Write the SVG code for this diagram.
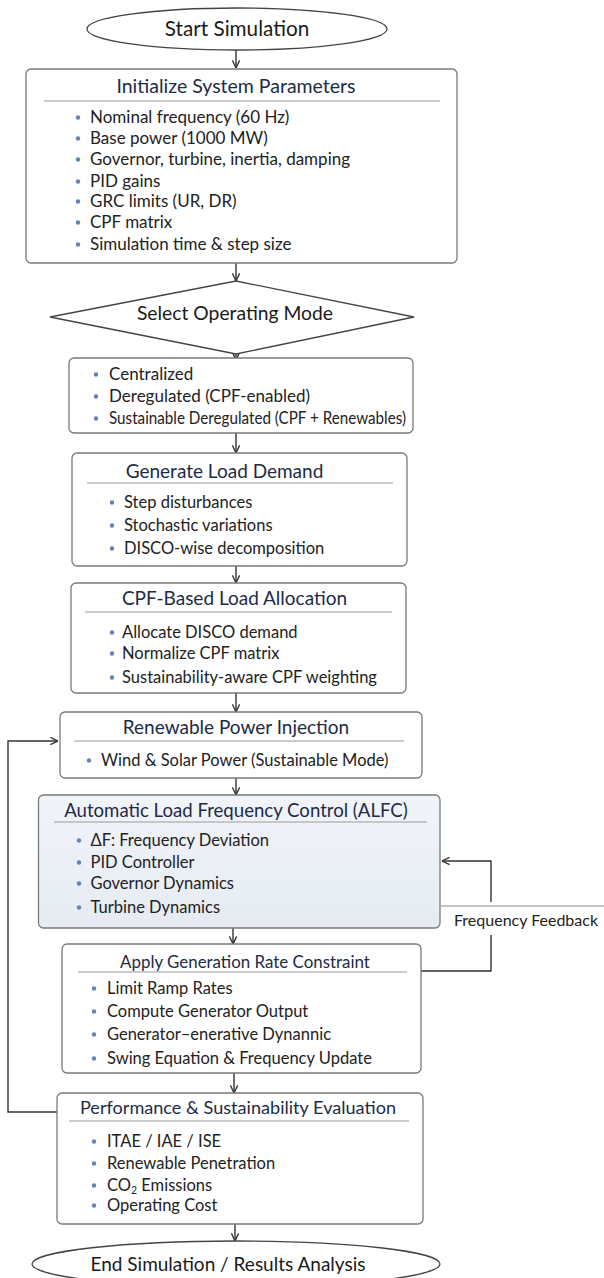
<svg xmlns="http://www.w3.org/2000/svg" width="604" height="1278" viewBox="0 0 604 1278">
<style>
text{font-family:Lato,'Open Sans','Liberation Sans',sans-serif}
.box{fill:#fff;stroke:#7a7a7a;stroke-width:1.3}
.term{fill:#fff;stroke:#444;stroke-width:1.3}
.title{font-size:19px;fill:#1d2b45;text-anchor:middle}
.big{font-size:20px;fill:#1a1a1a;text-anchor:middle}
.txt{font-size:16.5px;fill:#222}
.t17{font-size:17px}
.sep{stroke:#9a9a9a;stroke-width:1.2}
.dot{fill:#6482b8}
.conn{stroke:#333;stroke-width:1.4;fill:none}
.ah{marker-end:url(#arr)}
</style>
<defs>
<marker id="arr" viewBox="0 0 10 10" refX="9.5" refY="5" markerWidth="9" markerHeight="9" markerUnits="userSpaceOnUse" orient="auto">
<path d="M1,1 L9.5,5 L1,9" fill="none" stroke="#333" stroke-width="1.5"/>
</marker>
<linearGradient id="alfc" x1="0" y1="0" x2="0" y2="1">
<stop offset="0" stop-color="#f1f4f9"/>
<stop offset="1" stop-color="#e6ebf3"/>
</linearGradient>
</defs>

<g id="connectors">
<path class="conn ah" d="M236,50 V68"/>
<path class="conn ah" d="M236,263 V281"/>
<path class="conn ah" d="M236,354 V360"/>
<path class="conn ah" d="M236,433 V453"/>
<path class="conn ah" d="M236,566 V583"/>
<path class="conn ah" d="M236,693 V712"/>
<path class="conn ah" d="M236,778 V795"/>
<path class="conn ah" d="M233,928 V944"/>
<path class="conn ah" d="M234,1073 V1093"/>
<path class="conn ah" d="M235,1224 V1241"/>
<path class="conn ah" d="M57,1112 H8 V741 H58"/>
<path class="conn" d="M421,971 H491 V935"/>
<path class="conn ah" d="M491,902 V861 H442"/>
<path d="M441,906 H604" stroke="#8a8a8a" stroke-width="1" fill="none"/>
<text class="txt" x="454" y="926" style="font-size:16px">Frequency Feedback</text>
</g>

<g id="start">
<ellipse class="term" cx="237" cy="29" rx="150" ry="21"/>
<text class="big" x="237" y="36" style="font-size:20.7px">Start Simulation</text>
</g>

<g id="init">
<rect class="box" x="26" y="69" width="431" height="194" rx="5"/>
<text class="title" x="236" y="93" style="font-size:19.5px">Initialize System Parameters</text>
<line class="sep" x1="44" y1="101" x2="440" y2="101"/>
<circle class="dot" cx="78" cy="117.5" r="2.2"/><text class="txt t17" x="90" y="123">Nominal frequency (60 Hz)</text>
<circle class="dot" cx="78" cy="138.5" r="2.2"/><text class="txt t17" x="90" y="144">Base power (1000 MW)</text>
<circle class="dot" cx="78" cy="159.5" r="2.2"/><text class="txt t17" x="90" y="165">Governor, turbine, inertia, damping</text>
<circle class="dot" cx="78" cy="181.5" r="2.2"/><text class="txt t17" x="90" y="187">PID gains</text>
<circle class="dot" cx="78" cy="201.5" r="2.2"/><text class="txt t17" x="90" y="207">GRC limits (UR, DR)</text>
<circle class="dot" cx="78" cy="222.5" r="2.2"/><text class="txt t17" x="90" y="228">CPF matrix</text>
<circle class="dot" cx="78" cy="244.5" r="2.2"/><text class="txt t17" x="90" y="250">Simulation time &amp; step size</text>
</g>

<g id="select-mode">
<polygon class="term" points="236,281 414,317 236,354 50,317"/>
<text class="title" x="235" y="320" style="fill:#1a1a1a;font-size:19.3px">Select Operating Mode</text>
</g>

<g id="modes">
<rect class="box" x="69" y="358" width="344" height="75" rx="5"/>
<circle class="dot" cx="96" cy="374.5" r="2.2"/><text class="txt t17" x="109" y="380">Centralized</text>
<circle class="dot" cx="96" cy="396.5" r="2.2"/><text class="txt t17" x="109" y="402">Deregulated (CPF-enabled)</text>
<circle class="dot" cx="96" cy="418.5" r="2.2"/><text class="txt t17" x="109" y="424" textLength="297" lengthAdjust="spacingAndGlyphs">Sustainable Deregulated (CPF + Renewables)</text>
</g>

<g id="load-demand">
<rect class="box" x="72" y="453" width="335" height="113" rx="5"/>
<text class="title" x="224.5" y="478">Generate Load Demand</text>
<line class="sep" x1="87" y1="483" x2="393" y2="483"/>
<circle class="dot" cx="112" cy="502.5" r="2.2"/><text class="txt" x="124" y="508">Step disturbances</text>
<circle class="dot" cx="112" cy="525.5" r="2.2"/><text class="txt" x="124" y="531">Stochastic variations</text>
<circle class="dot" cx="112" cy="548.5" r="2.2"/><text class="txt" x="124" y="554">DISCO-wise decomposition</text>
</g>

<g id="cpf-allocation">
<rect class="box" x="71" y="583" width="335" height="110" rx="5"/>
<text class="title" x="234.5" y="605">CPF-Based Load Allocation</text>
<line class="sep" x1="85" y1="612" x2="392" y2="612"/>
<circle class="dot" cx="112" cy="632.5" r="2.2"/><text class="txt" x="122" y="638">Allocate DISCO demand</text>
<circle class="dot" cx="112" cy="653.5" r="2.2"/><text class="txt" x="122" y="659">Normalize CPF matrix</text>
<circle class="dot" cx="112" cy="677.5" r="2.2"/><text class="txt" x="122" y="683">Sustainability-aware CPF weighting</text>
</g>

<g id="renewable">
<rect class="box" x="60" y="712" width="362" height="66" rx="5"/>
<text class="title" x="236" y="734">Renewable Power Injection</text>
<line class="sep" x1="74" y1="741" x2="404" y2="741"/>
<circle class="dot" cx="89" cy="760.5" r="2.2"/><text class="txt" x="101" y="766">Wind &amp; Solar Power (Sustainable Mode)</text>
</g>

<g id="alfc-node">
<rect x="38.5" y="795" width="401.5" height="133" rx="5" fill="url(#alfc)" stroke="#7a7a7a" stroke-width="1.3"/>
<text class="title" x="236" y="817" style="font-size:18.6px">Automatic Load Frequency Control (ALFC)</text>
<line class="sep" x1="54" y1="822" x2="427" y2="822"/>
<circle class="dot" cx="79" cy="840.5" r="2.2"/><text class="txt" x="90.5" y="846">ΔF: Frequency Deviation</text>
<circle class="dot" cx="79" cy="862.5" r="2.2"/><text class="txt" x="90.5" y="868">PID Controller</text>
<circle class="dot" cx="79" cy="883.5" r="2.2"/><text class="txt" x="90.5" y="889">Governor Dynamics</text>
<circle class="dot" cx="79" cy="907.5" r="2.2"/><text class="txt" x="90.5" y="913">Turbine Dynamics</text>
</g>

<g id="grc">
<rect class="box" x="62" y="944" width="359" height="129" rx="5"/>
<text class="title" x="245" y="968" style="font-size:16.9px">Apply Generation Rate Constraint</text>
<line class="sep" x1="78" y1="972" x2="407" y2="972"/>
<circle class="dot" cx="94" cy="988.5" r="2.2"/><text class="txt" x="107" y="994">Limit Ramp Rates</text>
<circle class="dot" cx="94" cy="1011.5" r="2.2"/><text class="txt" x="107" y="1017">Compute Generator Output</text>
<circle class="dot" cx="94" cy="1034.5" r="2.2"/><text class="txt" x="107" y="1040">Generator–enerative Dynannic</text>
<circle class="dot" cx="94" cy="1058.5" r="2.2"/><text class="txt" x="107" y="1064">Swing Equation &amp; Frequency Update</text>
</g>

<g id="evaluation">
<rect class="box" x="57" y="1093" width="366" height="131" rx="5"/>
<text class="title" x="238" y="1114" style="font-size:18.1px">Performance &amp; Sustainability Evaluation</text>
<line class="sep" x1="69" y1="1121" x2="409" y2="1121"/>
<circle class="dot" cx="94" cy="1141.5" r="2.2"/><text class="txt" x="107" y="1147">ITAE / IAE / ISE</text>
<circle class="dot" cx="94" cy="1163.5" r="2.2"/><text class="txt" x="107" y="1169">Renewable Penetration</text>
<circle class="dot" cx="94" cy="1185.5" r="2.2"/><text class="txt" x="107" y="1191">CO<tspan font-size="10.5" baseline-shift="-3">2</tspan> Emissions</text>
<circle class="dot" cx="94" cy="1205.5" r="2.2"/><text class="txt" x="107" y="1211">Operating Cost</text>
</g>

<g id="end">
<ellipse class="term" cx="236" cy="1264" rx="204" ry="23"/>
<text class="big" x="228" y="1271" style="font-size:19px">End Simulation / Results Analysis</text>
</g>
</svg>
